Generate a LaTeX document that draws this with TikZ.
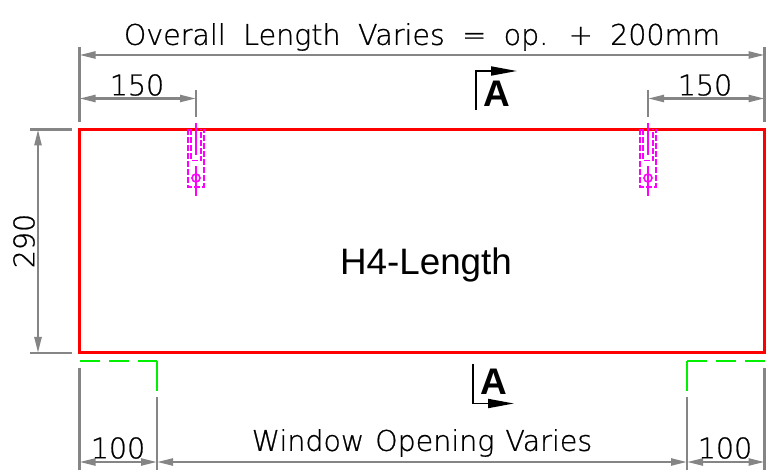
\documentclass[tikz,border=0pt]{standalone}
\usepackage{fontspec}
\setmainfont{Liberation Sans}
\newfontfamily\dimfont[FakeBold=0.8]{DejaVu Sans ExtraLight}
\usetikzlibrary{positioning}
\usetikzlibrary{arrows.meta}
\definecolor{dimgray}{HTML}{858585}
\definecolor{slotpink}{HTML}{FF00FF}
\definecolor{openinggreen}{HTML}{00F000}
\tikzset{
  extline/.style={draw=dimgray, line width=2.4pt},
  dimline/.style={draw=dimgray, line width=2.4pt, {Triangle[length=16pt,width=7pt,fill=dimgray]}-{Triangle[length=16pt,width=7pt,fill=dimgray]}},
  dimtext/.style={inner sep=0pt, font=\dimfont\fontsize{28.5}{28.5}\selectfont},
  slotline/.style={draw=slotpink, line width=1.8pt, dash pattern=on 6pt off 2pt},
  openingline/.style={draw=openinggreen, line width=2.4pt},
  sectionline/.style={draw=black, line width=1.8pt},
  sectiontext/.style={inner sep=0pt, font=\bfseries\fontsize{37}{37}\selectfont}
}
\begin{document}
\begin{tikzpicture}[x=1pt,y=-1pt]
  \useasboundingbox (0,0) rectangle (780,473);

  % Main panel
  \coordinate (tl) at (79.5,129.5);
  \coordinate (tr) at (764.5,129.5);
  \coordinate (br) at (764.5,353);
  \coordinate (bl) at (79.5,353);
  \draw[red, line width=3pt] (tl) -- (tr) -- (br) -- (bl) -- cycle;
  \node[font=\fontsize{36.8}{36.8}\selectfont, inner sep=0pt] (title) at (426,265) {H4-Length};

  % Slots on the top edge
  \foreach \x/\n in {196/l,648/r} {
    \coordinate (\n s1) at (\x-8,129);
    \coordinate (\n s2) at (\x+8,129);
    \coordinate (\n s3) at (\x+8,187);
    \coordinate (\n s4) at (\x-8,187);
    \coordinate (\n u1) at (\x-5,129);
    \coordinate (\n u2) at (\x-5,160.5);
    \coordinate (\n u3) at (\x+5,160.5);
    \coordinate (\n u4) at (\x+5,129);
    \draw[slotline] (\n s1) -- (\n s4) -- (\n s3) -- (\n s2);
    \draw[slotline] (\n u1) -- (\n u2) -- (\n u3) -- (\n u4);
    \draw[draw=slotpink, line width=1.8pt] (\x,123) -- (\x,155);
    \draw[draw=slotpink, line width=1.8pt] (\x,166) -- (\x,196);
    \node[circle, draw=slotpink, line width=1.6pt, minimum size=8pt, inner sep=0pt] (\n hole) at (\x,178) {};
  }

  % Extension lines, top and sides
  \foreach \x/\n/\a/\b in {79.5/a/47/122,764.5/b/47/122,196/c/90/117,648/d/90/117,79.5/e/368/470,157/f/397/470,687/g/397/470,764.5/h/368/470} {
    \coordinate (\n1) at (\x,\a);
    \coordinate (\n2) at (\x,\b);
    \draw[extline] (\n1) -- (\n2);
  }
  \coordinate (i1) at (30,129.5);
  \coordinate (i2) at (72,129.5);
  \coordinate (j1) at (30,353);
  \coordinate (j2) at (72,353);
  \draw[extline] (i1) -- (i2);
  \draw[extline] (j1) -- (j2);

  % Dimensions
  \coordinate (ovl) at (79.5,55);
  \coordinate (ovr) at (764.5,55);
  \coordinate (tal) at (79.5,98.5);
  \coordinate (tam) at (196,98.5);
  \coordinate (tbm) at (648,98.5);
  \coordinate (tbr) at (764.5,98.5);
  \coordinate (ht) at (38,129.5);
  \coordinate (hb) at (38,353);
  \coordinate (bal) at (79.5,462);
  \coordinate (bam) at (157,462);
  \coordinate (bbm) at (687,462);
  \coordinate (bbr) at (764.5,462);
  \draw[dimline] (ovl) -- (ovr);
  \draw[dimline] (tal) -- (tam);
  \draw[dimline] (tbm) -- (tbr);
  \draw[dimline] (ht) -- (hb);
  \draw[dimline] (bal) -- (bam);
  \draw[dimline] (bam) -- (bbm);
  \draw[dimline] (bbm) -- (bbr);

  \node[dimtext] (overall) at (422,37) {\spaceskip=17.5pt\relax Overall Length Varies = op. + 200mm};
  \node[dimtext] (lefttop) at (137,85) {150};
  \node[dimtext] (righttop) at (705,85) {150};
  \node[dimtext, rotate=90] (height) at (24,241) {290};
  \node[dimtext] (window) at (422,443) {\spaceskip=11pt\relax Window Opening Varies};
  \node[dimtext] (leftbot) at (118,448) {100};
  \node[dimtext] (rightbot) at (725,448) {100};

  % Window opening
  \coordinate (ga) at (79.5,361);
  \coordinate (gb) at (157,361);
  \coordinate (gc) at (157,391);
  \coordinate (gd) at (764.5,361);
  \coordinate (ge) at (687,361);
  \coordinate (gf) at (687,391);
  \draw[openingline, dash pattern=on 20pt off 9pt] (ga) -- (gb);
  \draw[openingline] (gb) -- (gc);
  \draw[openingline, dash pattern=on 20pt off 9pt] (gd) -- (ge);
  \draw[openingline] (ge) -- (gf);

  % Section marks
  \coordinate (up1) at (476,110);
  \coordinate (up2) at (476,71);
  \coordinate (up3) at (517,71);
  \coordinate (lo1) at (473,364);
  \coordinate (lo2) at (473,403.5);
  \coordinate (lo3) at (514,403.5);
  \draw[sectionline, -{Triangle[length=26pt,width=9pt]}] (up1) -- (up2) -- (up3);
  \draw[sectionline, -{Triangle[length=26pt,width=9pt]}] (lo1) -- (lo2) -- (lo3);
  \node[sectiontext] (seca) at (496.5,94) {A};
  \node[sectiontext] (secb) at (493.5,382) {A};
\end{tikzpicture}
\end{document}
